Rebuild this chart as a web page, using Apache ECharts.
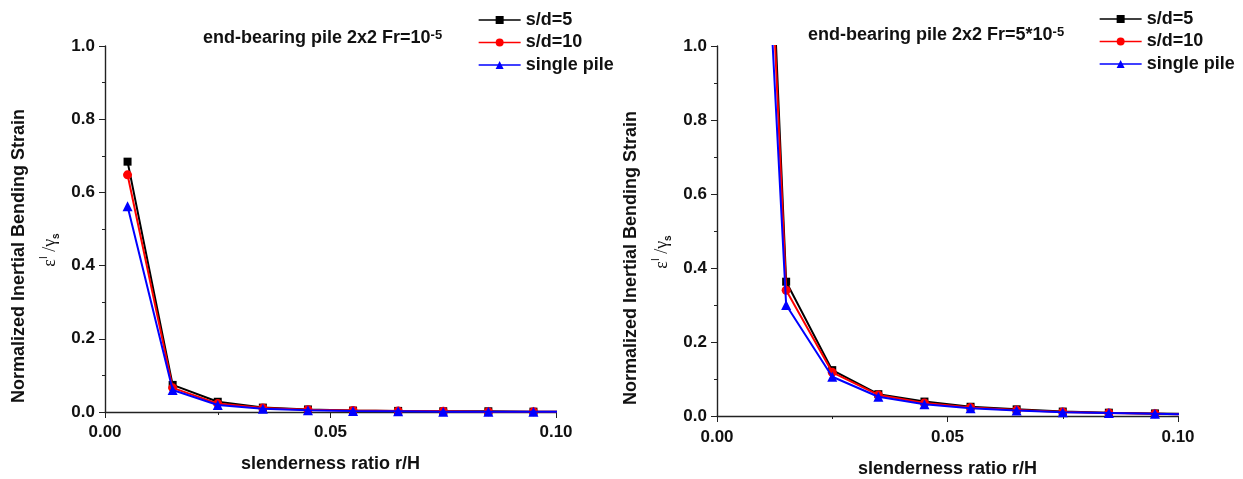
<!DOCTYPE html>
<html>
<head>
<meta charset="utf-8">
<title>Normalized inertial bending strain</title>
<script src="https://cdn.jsdelivr.net/npm/echarts@6/dist/echarts.min.js"></script>
<style>
  html, body { margin: 0; padding: 0; background: #fff; }
  #chart { width: 1243px; height: 479px; }
</style>
</head>
<body>
<div id="chart"></div>
<script>
'use strict';

// slenderness ratio r/H (last point sits just past the axis end, line runs off the frame)
var ratio = [0.005, 0.015, 0.025, 0.035, 0.045, 0.055, 0.065, 0.075, 0.085, 0.095, 0.105];

// Fr = 1e-5
var leftSd5 = [0.684, 0.074, 0.028, 0.012, 0.007, 0.004, 0.003, 0.002, 0.002, 0.001, 0.001];
var leftSd10 = [0.648, 0.066, 0.023, 0.011, 0.006, 0.004, 0.003, 0.002, 0.001, 0.001, 0.001];
var leftSingle = [0.562, 0.060, 0.019, 0.009, 0.005, 0.003, 0.002, 0.001, 0.001, 0.001, 0.001];

// Fr = 5e-5 (first point is off the top of the plot)
var rightSd5 = [3.27, 0.363, 0.124, 0.059, 0.039, 0.025, 0.018, 0.012, 0.009, 0.007, 0.005];
var rightSd10 = [3.10, 0.340, 0.118, 0.057, 0.035, 0.023, 0.016, 0.011, 0.008, 0.006, 0.004];
var rightSingle = [2.70, 0.300, 0.106, 0.052, 0.032, 0.021, 0.015, 0.010, 0.008, 0.006, 0.004];

var seriesNames = ['s/d=5', 's/d=10', 'single pile'];
var titleTexts = ['end-bearing pile 2x2 Fr=10', 'end-bearing pile 2x2 Fr=5*10'];
var titleSup = '-5';
var xName = 'slenderness ratio r/H';
var yName = 'Normalized Inertial Bending Strain';

var FONT = '"Liberation Sans", Arial, sans-serif';
var INK = '#111';

function pairs(ys) {
  return ys.map(function(y, i) { return [ratio[i], y]; });
}

function makeSeries(idx, values) {
  var looks = [
    { color: '#000000', symbol: 'rect', size: 8 },
    { color: '#ff0000', symbol: 'circle', size: 9 },
    { color: '#0000ff', symbol: 'triangle', size: 10 }
  ];
  return values.map(function(v, k) {
    return {
      name: seriesNames[k],
      type: 'line',
      xAxisIndex: idx,
      yAxisIndex: idx,
      data: pairs(v),
      symbol: looks[k].symbol,
      symbolSize: looks[k].size,
      showAllSymbol: true,
      clip: true,
      color: looks[k].color,
      lineStyle: { width: 2, color: looks[k].color },
      itemStyle: { color: looks[k].color },
      z: 2 + k,
      animation: false
    };
  });
}

function xAxis(idx, gap, margin) {
  return {
    type: 'value',
    gridIndex: idx,
    min: 0,
    max: 0.1,
    interval: 0.05,
    name: xName,
    nameLocation: 'middle',
    nameGap: gap,
    nameTextStyle: { fontFamily: FONT, fontWeight: 'bold', fontSize: 18, color: INK },
    axisLine: { lineStyle: { color: '#222', width: 1.4 } },
    axisTick: { length: 6, lineStyle: { color: '#222', width: 1 } },
    minorTick: { show: true, splitNumber: 2, length: 3, lineStyle: { color: '#222', width: 1 } },
    splitLine: { show: false },
    axisLabel: {
      margin: margin,
      fontFamily: FONT, fontWeight: 'bold', fontSize: 17, color: INK,
      formatter: function(v) { return v.toFixed(2); }
    }
  };
}

function yAxis(idx) {
  // name sits lower than the axis middle in the original, hence the trailing padding
  return {
    type: 'value',
    gridIndex: idx,
    min: 0,
    max: 1,
    interval: 0.2,
    name: '{n|' + yName + '}\n{e|ε}{sup|I}{e| /γ}{sub|s}',
    nameLocation: 'middle',
    nameRotate: 90,
    nameGap: 44,
    nameTextStyle: {
      color: INK,
      rich: {
        n: { fontFamily: FONT, fontWeight: 'bold', fontSize: 18, lineHeight: 40, padding: [0, 54, 0, 0], color: INK },
        e: { fontFamily: '"Liberation Serif", serif', fontSize: 18, lineHeight: 22, color: INK },
        sup: { fontFamily: FONT, fontSize: 10, lineHeight: 10, verticalAlign: 'top', color: INK },
        sub: { fontFamily: FONT, fontWeight: 'bold', fontSize: 10, lineHeight: 10, verticalAlign: 'bottom', padding: [0, 42, 0, 0], color: INK }
      }
    },
    axisLine: { show: true, lineStyle: { color: '#222', width: 1.4 } },
    axisTick: { show: true, length: 6, lineStyle: { color: '#222', width: 1 } },
    minorTick: { show: true, splitNumber: 2, length: 3, lineStyle: { color: '#222', width: 1 } },
    splitLine: { show: false },
    axisLabel: {
      margin: 10,
      fontFamily: FONT, fontWeight: 'bold', fontSize: 17, color: INK,
      formatter: function(v) { return v.toFixed(1); }
    }
  };
}

function legend(left, top) {
  return {
    orient: 'vertical',
    left: left,
    top: top,
    data: seriesNames,
    itemWidth: 42,
    itemHeight: 10,
    itemGap: 4.5,
    padding: 0,
    lineStyle: { width: 1.3 },
    textStyle: { fontFamily: FONT, fontWeight: 'bold', fontSize: 18, lineHeight: 18, color: INK }
  };
}

function title(idx, left, top) {
  return {
    left: left,
    top: top,
    padding: 0,
    text: '{t|' + titleTexts[idx] + '}{s|' + titleSup + '}',
    textStyle: {
      rich: {
        t: { fontFamily: FONT, fontWeight: 'bold', fontSize: 18, lineHeight: 18, padding: [7, 0, 0, 0], verticalAlign: 'bottom', color: INK },
        s: { fontFamily: FONT, fontWeight: 'bold', fontSize: 13, lineHeight: 13, verticalAlign: 'top', color: INK }
      }
    }
  };
}

var myChart = echarts.init(document.getElementById('chart'));
var option = {
  backgroundColor: '#fff',
  animation: false,
  title: [title(0, 203, 29), title(1, 808, 26)],
  legend: [legend(478, 11), legend(1099, 10)],
  grid: [
    { left: 105, right: 687, top: 46, bottom: 67, outerBoundsMode: 'none' },
    { left: 717, right: 65, top: 46, bottom: 63, outerBoundsMode: 'none' }
  ],
  xAxis: [xAxis(0, 43, 12), xAxis(1, 44, 13)],
  yAxis: [yAxis(0), yAxis(1)],
  series: makeSeries(0, [leftSd5, leftSd10, leftSingle])
    .concat(makeSeries(1, [rightSd5, rightSd10, rightSingle]))
};
myChart.setOption(option);
</script>
</body>
</html>
